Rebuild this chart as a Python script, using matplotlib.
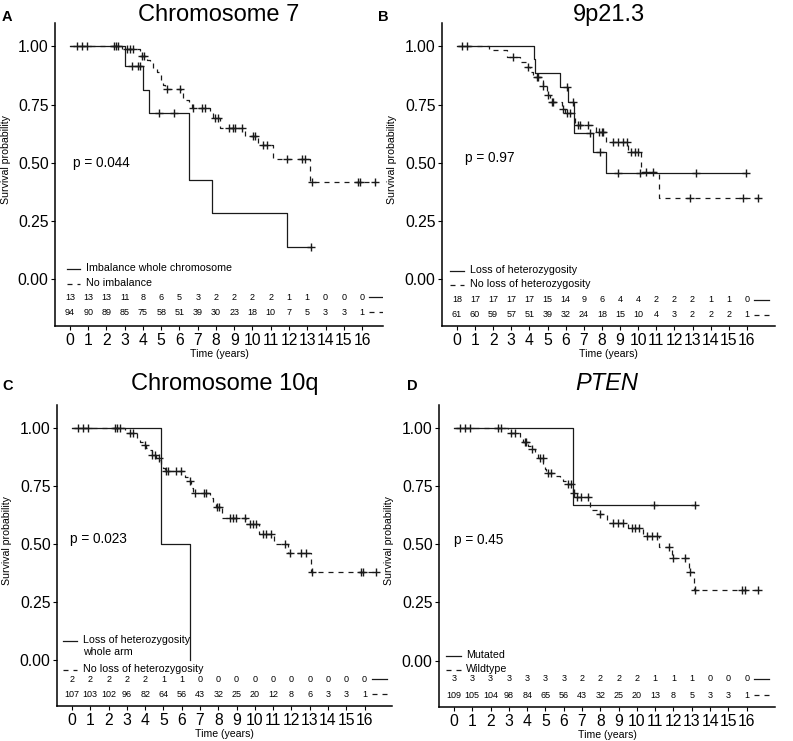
import numpy as np
import matplotlib
matplotlib.use('Agg')
import matplotlib.pyplot as plt
from matplotlib.ticker import FormatStrFormatter

plt.rcParams['font.family'] = ['Liberation Sans', 'DejaVu Sans']

years = list(range(17))

# --- A: Chromosome 7 ---
a_title = 'Chromosome 7'
a_pval = 'p = 0.044'
a_labels = ['Imbalance whole chromosome', 'No imbalance']
a1_t = [3.0, 3.98, 4.33, 6.52, 7.76, 11.9]
a1_s = [0.917, 0.814, 0.712, 0.426, 0.286, 0.141]
a1_c = [3.4, 3.7, 3.85, 4.88, 5.7, 13.2]
a2_t = [2.83, 3.84, 4.2, 4.38, 4.57, 4.75, 4.9, 4.97, 5.08, 5.21, 6.1, 6.17, 6.36,
        6.54, 6.67, 7.67, 7.85, 8.22, 9.59, 10.32, 11.14, 13.15]
a2_s = [0.989, 0.96, 0.94, 0.93, 0.905, 0.89, 0.877, 0.857, 0.835, 0.815, 0.80, 0.78, 0.77,
        0.755, 0.736, 0.715, 0.693, 0.65, 0.615, 0.577, 0.515, 0.416]
a2_c = [0.4, 0.68, 0.95, 2.41, 2.52, 2.65, 3.1, 3.29, 3.47, 3.93, 4.05, 5.3, 6.03, 6.72,
        7.21, 7.4, 7.95, 8.13, 8.73, 8.95, 9.04, 9.41, 10.05, 10.14, 10.59, 10.78, 11.87,
        12.69, 12.88, 13.24, 15.8, 15.89, 16.71]
a1_risk = [13, 13, 13, 11, 8, 6, 5, 3, 2, 2, 2, 2, 1, 1, 0, 0, 0]
a2_risk = [94, 90, 89, 85, 75, 58, 51, 39, 30, 23, 18, 10, 7, 5, 3, 3, 1]

# --- B: 9p21.3 ---
b_title = '9p21.3'
b_pval = 'p = 0.97'
b_labels = ['Loss of heterozygosity', 'No loss of heterozygosity']
b1_t = [4.27, 4.33, 5.69, 6.11, 6.46, 7.52, 8.2]
b1_s = [0.944, 0.887, 0.824, 0.762, 0.626, 0.547, 0.458]
b1_c = [0.28, 6.06, 6.42, 7.34, 7.89, 8.9, 10.09, 13.17, 15.93]
b2_t = [1.8, 2.75, 3.49, 3.82, 4.04, 4.22, 4.73, 4.95, 5.13, 5.78, 5.96, 6.51, 7.7,
        8.22, 9.45, 10.18, 11.16]
b2_s = [0.986, 0.953, 0.934, 0.913, 0.891, 0.87, 0.83, 0.79, 0.762, 0.733, 0.712, 0.662,
        0.633, 0.59, 0.547, 0.46, 0.351]
b2_c = [0.55, 3.12, 3.91, 4.4, 4.5, 4.76, 5.05, 5.23, 5.32, 5.87, 6.05, 6.24, 6.7, 6.79,
        7.25, 7.83, 7.98, 8.07, 8.62, 8.9, 9.14, 9.4, 9.63, 9.82, 10.0, 10.46, 10.83,
        12.88, 15.78, 16.6]
b1_risk = [18, 17, 17, 17, 17, 15, 14, 9, 6, 4, 4, 2, 2, 2, 1, 1, 0]
b2_risk = [61, 60, 59, 57, 51, 39, 32, 24, 18, 15, 10, 4, 3, 2, 2, 2, 1]

# --- C: Chromosome 10q ---
c_title = 'Chromosome 10q'
c_pval = 'p = 0.023'
c_labels = ['Loss of heterozygosity\nwhole arm', 'No loss of heterozygosity']
c1_t = [4.85, 6.47]
c1_s = [0.5, 0.0]
c1_c = []
c2_t = [2.89, 3.53, 3.71, 3.89, 4.07, 4.25, 4.35, 4.62, 4.8, 4.89, 4.98, 5.07, 6.16,
        6.35, 6.53, 6.62, 7.53, 7.71, 7.89, 8.22, 9.53, 10.25, 11.07, 11.8, 13.07]
c2_s = [0.978, 0.957, 0.942, 0.928, 0.914, 0.906, 0.885, 0.87, 0.863, 0.84, 0.827, 0.813,
        0.79, 0.77, 0.74, 0.72, 0.697, 0.683, 0.66, 0.61, 0.586, 0.544, 0.5, 0.46, 0.378]
c2_c = [0.35, 0.62, 0.89, 2.35, 2.47, 2.62, 3.16, 3.35, 3.98, 4.4, 4.53, 4.76, 5.16, 5.25,
        5.71, 5.98, 6.44, 6.71, 7.2, 7.35, 7.93, 8.04, 8.62, 8.8, 8.95, 9.44, 9.71, 9.89,
        10.07, 10.44, 10.62, 10.89, 11.67, 11.93, 12.53, 12.8, 13.1, 15.8, 15.93, 16.62]
c1_risk = [2, 2, 2, 2, 2, 1, 1, 0, 0, 0, 0, 0, 0, 0, 0, 0, 0]
c2_risk = [107, 103, 102, 96, 82, 64, 56, 43, 32, 25, 20, 12, 8, 6, 3, 3, 1]

# --- D: PTEN ---
d_title = 'PTEN'
d_pval = 'p = 0.45'
d_labels = ['Mutated', 'Wildtype']
d1_t = [6.51]
d1_s = [0.668]
d1_c = [10.95, 13.2]
d2_t = [2.96, 3.59, 3.78, 4.05, 4.23, 4.42, 4.6, 4.87, 4.96, 5.05, 5.6, 5.78, 5.97, 6.15,
        6.48, 6.61, 7.46, 7.88, 8.34, 9.53, 10.35, 11.22, 11.9, 12.86, 13.12]
d2_s = [0.978, 0.957, 0.942, 0.925, 0.91, 0.888, 0.874, 0.845, 0.826, 0.806, 0.794, 0.787,
        0.772, 0.758, 0.722, 0.703, 0.649, 0.632, 0.591, 0.57, 0.536, 0.49, 0.44, 0.379, 0.303]
d2_c = [0.31, 0.58, 0.86, 2.41, 2.59, 3.14, 3.32, 3.87, 3.96, 4.29, 4.69, 4.84, 5.15, 5.33,
        6.24, 6.42, 6.55, 6.7, 6.97, 7.34, 7.97, 8.7, 8.98, 9.25, 9.71, 9.89, 10.13, 10.53,
        10.8, 11.11, 11.77, 11.95, 12.63, 12.9, 13.18, 15.73, 15.91, 16.64]
d1_risk = [3, 3, 3, 3, 3, 3, 3, 2, 2, 2, 2, 1, 1, 1, 0, 0, 0]
d2_risk = [109, 105, 104, 98, 84, 65, 56, 43, 32, 25, 20, 13, 8, 5, 3, 3, 1]

LINE = '#1a1a1a'
DASH = (0, (4, 4))


def km_curve(ax, t, s, cens, ls):
    t = np.asarray(t, float)
    s = np.asarray(s, float)
    end = max(list(t) + list(cens))
    ax.step(np.r_[0, t, end], np.r_[1, s, s[-1]], where='post',
            color=LINE, lw=0.9, ls=ls)
    if len(cens):
        surv = np.r_[1, s]
        cy = surv[np.searchsorted(t, cens, side='right')]
        ax.plot(cens, cy, '+', ms=6, mew=1, color=LINE, ls='none')


def panel(rect, xmax, letter, letter_x, title, italic, pval, pval_xy,
          curves, labels, leg, risks, rows, base_px):
    ax = fig.add_axes(rect)
    (t1, s1, c1), (t2, s2, c2) = curves
    km_curve(ax, t1, s1, c1, '-')
    km_curve(ax, t2, s2, c2, DASH)

    ax.set_xlim(-0.82, xmax)
    ax.set_ylim(-0.2, 1.1)
    ax.set_xticks(years)
    ax.set_yticks([0, 0.25, 0.5, 0.75, 1.0])
    ax.yaxis.set_major_formatter(FormatStrFormatter('%.2f'))
    ax.tick_params(labelsize=11.3, length=3, width=0.8, pad=1.5, colors='black')
    ax.tick_params(axis='x', pad=2)
    for side in ['top', 'right']:
        ax.spines[side].set_visible(False)
    for side in ['left', 'bottom']:
        ax.spines[side].set_linewidth(1.1)
    ax.set_xlabel('Time (years)', fontsize=7.6)
    ax.xaxis.set_label_coords(0.5, -0.075)
    ax.set_ylabel('Survival probability', fontsize=7.6)
    ax.yaxis.set_label_coords(-0.135, 0.55)

    ax.text(pval_xy[0], pval_xy[1], pval, fontsize=9.8, va='center', ha='left')

    # legend inside the plot
    lx0, lx1, tx, ly = leg
    for lab, y, ls in zip(labels, ly, ['-', DASH]):
        ax.plot([lx0, lx1], [y, y], color=LINE, lw=0.9, ls=ls)
        ax.text(tx, y + 0.026, lab, fontsize=7.7, va='top', ha='left')

    # numbers at risk inside the plot
    for counts, y, ls in zip(risks, rows, ['-', DASH]):
        for yr, n in zip(years, counts):
            ax.text(yr, y, str(n), fontsize=6.5, ha='center', va='center')
        ax.plot([16.4, 17.2], [y, y], color=LINE, lw=0.9, ls=ls)

    cx = rect[0] + rect[2] / 2
    fig.text(cx, 1 - base_px / 741, title, fontsize=17, ha='center', va='baseline',
             style='italic' if italic else 'normal')
    fig.text(letter_x / 793, 1 - base_px / 741, letter, fontsize=10.5,
             fontweight='bold', va='baseline', ha='left')
    return ax


fig = plt.figure(figsize=(7.93, 7.41), dpi=100)

panel([55 / 793, 1 - 326 / 741, 328 / 793, 303 / 741], 17.15, 'A', 2,
      a_title, False, a_pval, (0.18, 0.5),
      [(a1_t, a1_s, a1_c), (a2_t, a2_s, a2_c)], a_labels,
      (-0.18, 0.55, 0.88, [0.046, -0.019]), [a1_risk, a2_risk], [-0.076, -0.141], 21)

panel([442 / 793, 1 - 326 / 741, 333 / 793, 303 / 741], 17.55, 'B', 378,
      b_title, False, b_pval, (0.46, 0.52),
      [(b1_t, b1_s, b1_c), (b2_t, b2_s, b2_c)], b_labels,
      (-0.4, 0.37, 0.7, [0.037, -0.024]), [b1_risk, b2_risk], [-0.088, -0.152], 21)

panel([57 / 793, 1 - 706 / 741, 335 / 793, 301 / 741], 17.5, 'C', 2,
      c_title, False, c_pval, (-0.1, 0.52),
      [(c1_t, c1_s, c1_c), (c2_t, c2_s, c2_c)], c_labels,
      (-0.5, 0.29, 0.58, [0.08, -0.044]), [c1_risk, c2_risk], [-0.084, -0.15], 390)

panel([439 / 793, 1 - 707 / 741, 336 / 793, 302 / 741], 17.55, 'D', 407,
      d_title, True, d_pval, (0.0, 0.52),
      [(d1_t, d1_s, d1_c), (d2_t, d2_s, d2_c)], d_labels,
      (-0.42, 0.36, 0.68, [0.02, -0.04]), [d1_risk, d2_risk], [-0.079, -0.149], 390)

fig.savefig('out.png', dpi=100)
